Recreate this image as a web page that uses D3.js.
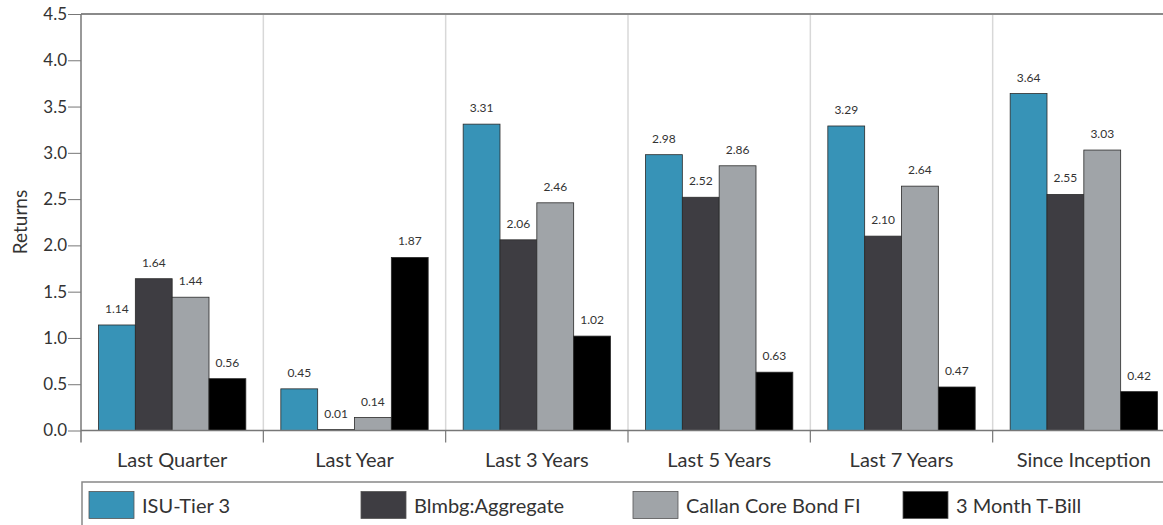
<!DOCTYPE html>
<html>
<head>
<meta charset="utf-8">
<script src="https://cdn.jsdelivr.net/npm/d3@7/dist/d3.min.js"></script>
<style>
  html, body { margin: 0; padding: 0; background: #fff; }
  svg { display: block; font-family: Lato, "DejaVu Sans", sans-serif; }
</style>
</head>
<body>
<svg id="chart" width="1163" height="525"></svg>
<script>
const categories = ["Last Quarter", "Last Year", "Last 3 Years", "Last 5 Years", "Last 7 Years", "Since Inception"];
const seriesNames = ["ISU-Tier 3", "Blmbg:Aggregate", "Callan Core Bond FI", "3 Month T-Bill"];
const isuTier3   = [1.14, 0.45, 3.31, 2.98, 3.29, 3.64];
const blmbgAgg   = [1.64, 0.01, 2.06, 2.52, 2.10, 2.55];
const callanCore = [1.44, 0.14, 2.46, 2.86, 2.64, 3.03];
const tBill      = [0.56, 1.87, 1.02, 0.63, 0.47, 0.42];
const yTicks = [0.0, 0.5, 1.0, 1.5, 2.0, 2.5, 3.0, 3.5, 4.0, 4.5];
const colors = ["#3793b7", "#3e3d42", "#a0a4a8", "#000000"];

const seriesValues = [isuTier3, blmbgAgg, callanCore, tBill];

(function () {
const svg = d3.select("#chart");
const pL = 81, pR = 1175, pT = 14, pB = 430.5;

const x0 = d3.scaleBand().domain(categories).range([pL, pR]).paddingInner(0).paddingOuter(0);
const bw = x0.bandwidth();
const x1 = d3.scaleBand().domain(seriesNames).range([17.5, bw - 17.5]).padding(0);
const y = d3.scaleLinear().domain([0, 4.5]).range([pB, pT]);

// vertical gridlines at band boundaries
categories.slice(1).forEach(c => {
  svg.append("line")
    .attr("x1", x0(c)).attr("x2", x0(c))
    .attr("y1", pT).attr("y2", pB)
    .attr("stroke", "#d8d8d8").attr("stroke-width", 1.5);
});

// bars
const groups = svg.selectAll("g.cat").data(categories).enter().append("g")
  .attr("class", "cat")
  .attr("transform", d => `translate(${x0(d)},0)`);

groups.each(function(cat, ci) {
  const g = d3.select(this);
  seriesNames.forEach((s, si) => {
    const v = seriesValues[si][ci];
    g.append("rect")
      .attr("x", x1(s))
      .attr("y", y(v))
      .attr("width", x1.bandwidth())
      .attr("height", pB - y(v))
      .attr("fill", colors[si])
      .attr("stroke", "#2a2a2a")
      .attr("stroke-width", 0.8);
    g.append("text")
      .attr("x", x1(s) + x1.bandwidth() / 2)
      .attr("y", y(v) - 12)
      .attr("text-anchor", "middle")
      .attr("font-size", 12)
      .attr("fill", "#333")
      .text(v.toFixed(2));
  });
});

// top border
svg.append("line")
  .attr("x1", pL).attr("x2", pR)
  .attr("y1", pT).attr("y2", pT)
  .attr("stroke", "#8a8a8a").attr("stroke-width", 2);

// y axis
const yAxis = d3.axisLeft(y).tickValues(yTicks).tickFormat(d3.format(".1f")).tickSize(13).tickSizeOuter(0);
const ga = svg.append("g").attr("transform", `translate(${pL},0)`).call(yAxis);
ga.select(".domain").remove();
ga.selectAll(".tick line").attr("stroke", "#777").attr("stroke-width", 1);
ga.selectAll(".tick text").attr("font-size", 17).attr("font-family", "Lato, sans-serif").attr("fill", "#333").attr("x", -14);
svg.append("line")
  .attr("x1", pL).attr("x2", pL)
  .attr("y1", pT).attr("y2", pB + 12)
  .attr("stroke", "#777").attr("stroke-width", 1.5);

// x baseline
svg.append("line")
  .attr("x1", pL).attr("x2", pR)
  .attr("y1", pB).attr("y2", pB)
  .attr("stroke", "#777").attr("stroke-width", 1.5);

// x axis labels
const xAxis = d3.axisBottom(x0).tickSize(0).tickSizeOuter(0);
const gx = svg.append("g").attr("transform", `translate(0,${pB})`).call(xAxis);
gx.select(".domain").remove();
gx.selectAll(".tick text").attr("font-size", 20).attr("font-family", "Lato, sans-serif")
  .attr("fill", "#333").attr("dy", 0).attr("y", 36.5);
categories.slice(1).forEach(c => {
  svg.append("line")
    .attr("x1", x0(c)).attr("x2", x0(c))
    .attr("y1", pB).attr("y2", pB + 12)
    .attr("stroke", "#777").attr("stroke-width", 1.2);
});

// y axis title
svg.append("text")
  .attr("transform", `translate(27,222) rotate(-90)`)
  .attr("text-anchor", "middle")
  .attr("font-size", 19)
  .attr("fill", "#333")
  .text("Returns");

// legend
svg.append("rect")
  .attr("x", 82).attr("y", 482)
  .attr("width", 1200).attr("height", 100)
  .attr("fill", "none").attr("stroke", "#888").attr("stroke-width", 1.5);
const legendX = [89, 361, 633, 903];
seriesNames.forEach((s, i) => {
  svg.append("rect")
    .attr("x", legendX[i]).attr("y", 491.5)
    .attr("width", 45).attr("height", 27)
    .attr("fill", colors[i]).attr("stroke", "#555").attr("stroke-width", 0.8);
  svg.append("text")
    .attr("x", legendX[i] + 53).attr("y", 513)
    .attr("font-size", 20).attr("fill", "#333")
    .text(s);
});
})();
</script>
</body>
</html>
